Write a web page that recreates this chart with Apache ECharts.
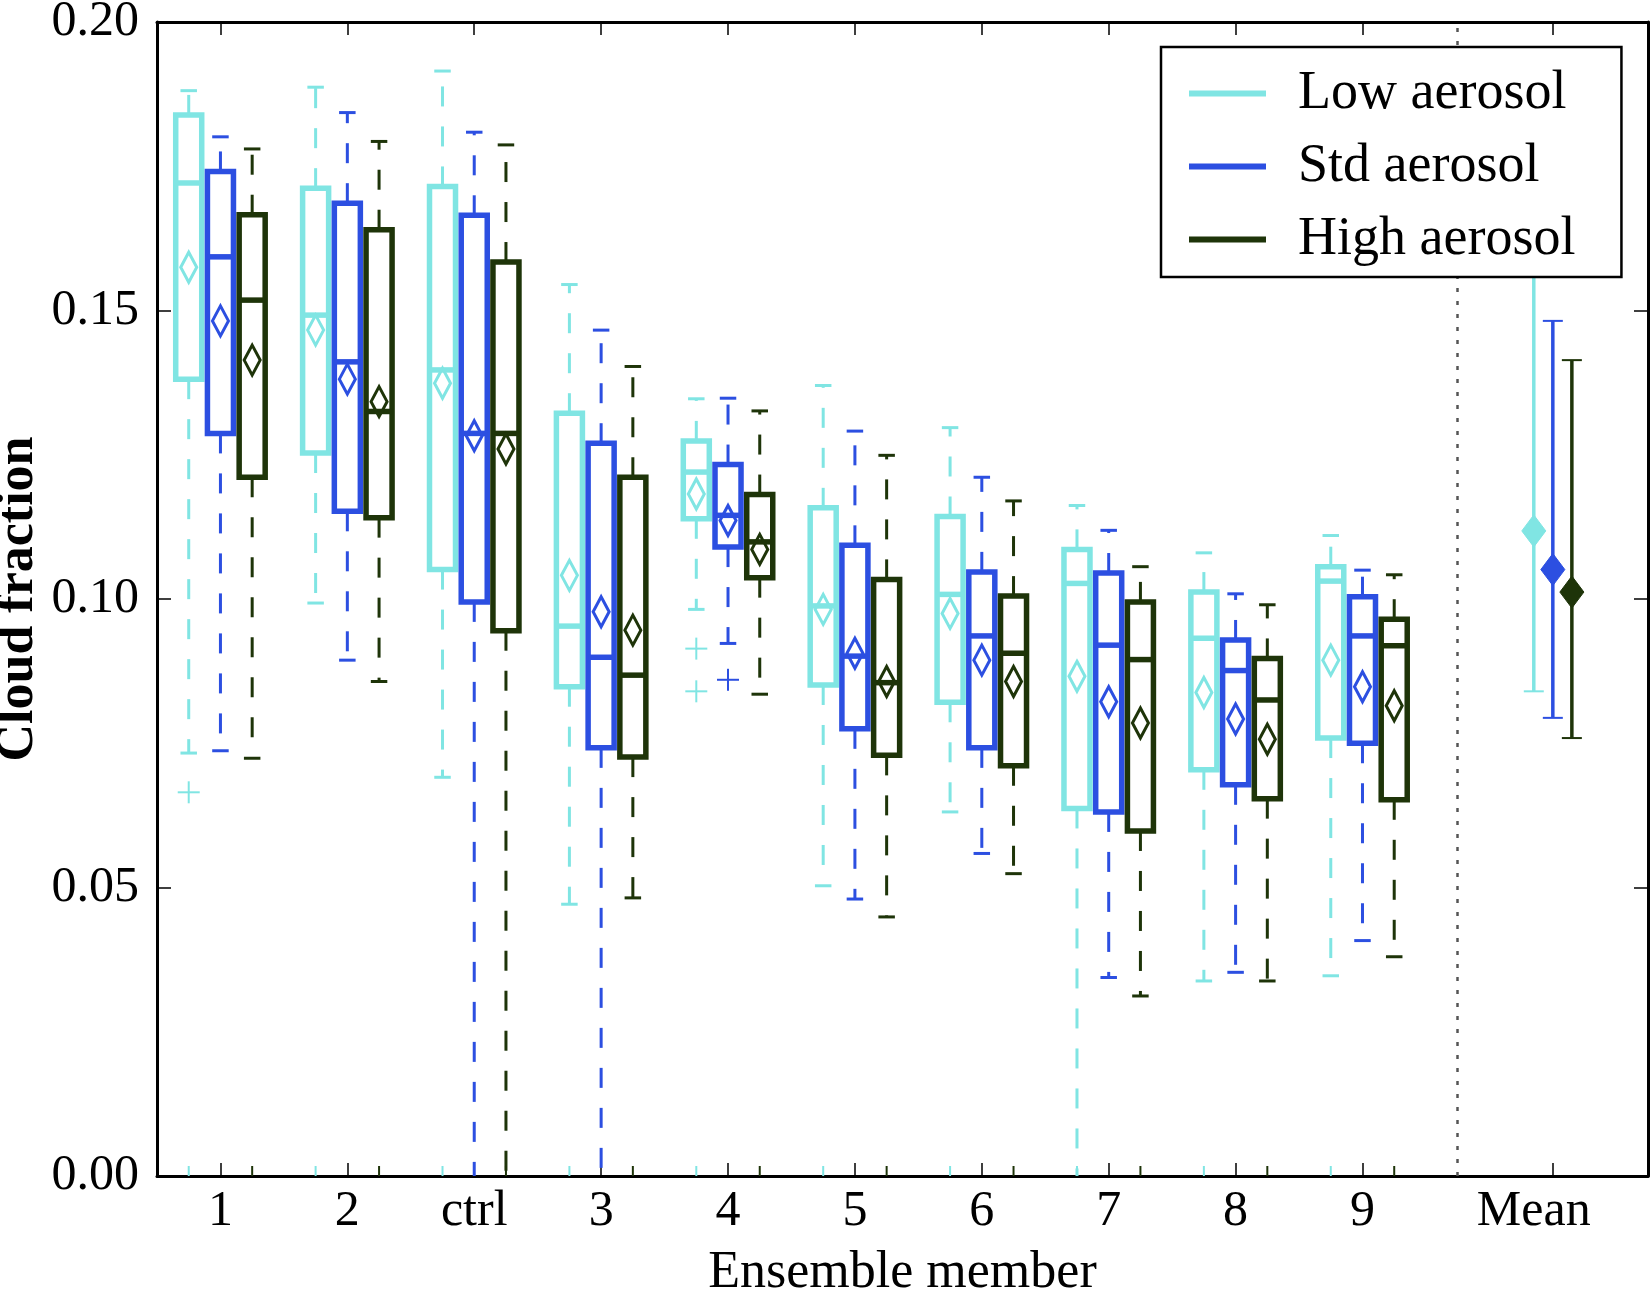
<!DOCTYPE html>
<html>
<head>
<meta charset="utf-8">
<script src="https://cdn.jsdelivr.net/npm/echarts@6/dist/echarts.min.js"></script>
<style>
html, body { margin: 0; padding: 0; background: #ffffff; }
#chart { width: 1651px; height: 1291px; }
</style>
</head>
<body>
<div id="chart"></div>
<script>
// ---------------- data ----------------
const memberLabels = ['1', '2', 'ctrl', '3', '4', '5', '6', '7', '8', '9'];
const meanLabel = 'Mean';
const seriesNames = ['Low aerosol', 'Std aerosol', 'High aerosol'];
const seriesColors = ['#80e5e3', '#2c4fe1', '#1e3409'];
const yTicks = [0, 0.05, 0.10, 0.15, 0.20];

// per member: [whisker low, Q1, median, Q3, whisker high, mean]
const lowAerosol = [
  [0.0733, 0.1381, 0.1721, 0.1839, 0.1881, 0.1575],
  [0.0993, 0.1253, 0.1492, 0.1712, 0.1887, 0.1466],
  [0.0691, 0.1051, 0.1397, 0.1715, 0.1915, 0.1374],
  [0.0471, 0.0848, 0.0953, 0.1322, 0.1545, 0.1041],
  [0.0982, 0.1139, 0.1220, 0.1274, 0.1347, 0.1182],
  [0.0503, 0.0851, 0.0988, 0.1158, 0.1370, 0.0982],
  [0.0631, 0.0821, 0.1008, 0.1143, 0.1297, 0.0975],
  [0.0000, 0.0637, 0.1027, 0.1086, 0.1162, 0.0866],
  [0.0338, 0.0704, 0.0932, 0.1012, 0.1080, 0.0838],
  [0.0347, 0.0759, 0.1031, 0.1056, 0.1110, 0.0894]
];
const stdAerosol = [
  [0.0737, 0.1287, 0.1593, 0.1741, 0.1801, 0.1482],
  [0.0894, 0.1152, 0.1411, 0.1686, 0.1843, 0.1381],
  [0.0000, 0.0995, 0.1287, 0.1665, 0.1809, 0.1283],
  [0.0000, 0.0742, 0.0899, 0.1270, 0.1466, 0.0978],
  [0.0923, 0.1090, 0.1145, 0.1233, 0.1348, 0.1136],
  [0.0480, 0.0775, 0.0901, 0.1093, 0.1291, 0.0906],
  [0.0559, 0.0742, 0.0936, 0.1047, 0.1211, 0.0894],
  [0.0344, 0.0631, 0.0920, 0.1045, 0.1119, 0.0822],
  [0.0353, 0.0678, 0.0876, 0.0929, 0.1009, 0.0792],
  [0.0408, 0.0750, 0.0936, 0.1004, 0.1050, 0.0848]
];
const highAerosol = [
  [0.0724, 0.1211, 0.1518, 0.1666, 0.1780, 0.1414],
  [0.0857, 0.1141, 0.1325, 0.1640, 0.1793, 0.1342],
  [0.0000, 0.0945, 0.1287, 0.1584, 0.1787, 0.1260],
  [0.0482, 0.0726, 0.0868, 0.1211, 0.1403, 0.0946],
  [0.0835, 0.1037, 0.1099, 0.1181, 0.1326, 0.1086],
  [0.0449, 0.0729, 0.0855, 0.1034, 0.1249, 0.0857],
  [0.0524, 0.0711, 0.0906, 0.1005, 0.1170, 0.0857],
  [0.0312, 0.0598, 0.0895, 0.0995, 0.1056, 0.0785],
  [0.0338, 0.0654, 0.0825, 0.0897, 0.0990, 0.0757],
  [0.0380, 0.0652, 0.0919, 0.0965, 0.1042, 0.0815]
];

// outliers: [member label, value]
const lowOutliers = [['1', 0.0665], ['4', 0.0914], ['4', 0.0840]];
const stdOutliers = [['4', 0.0860]];
const highOutliers = [];

// ensemble mean (diamond) and range of member means (error bar)
const ensembleMean = [0.1118, 0.1051, 0.1012];
const ensembleMeanMin = [0.0840, 0.0794, 0.0759];
const ensembleMeanMax = [0.1575, 0.1482, 0.1414];

// ---------------- layout / style ----------------
const FONT = "'Liberation Serif', 'Times New Roman', serif";
const BOX_OFFSETS = [-0.25, 0, 0.25];
const MEAN_OFFSETS = [-0.15, 0, 0.15];
const BOX_WIDTH = 0.205;
const CAP_WIDTH = 0.13;
const MEAN_POS = 11.5;
const MEAN_LABEL_POS = MEAN_POS + MEAN_OFFSETS[0];
const SEPARATOR_POS = 10.75;
const X_MIN = 0.5, X_MAX = 12.25;
const memberPositions = memberLabels.map((_, i) => i + 1);
const tickPositions = memberPositions.concat([MEAN_POS]);
const labelPositions = memberPositions.concat([MEAN_LABEL_POS]);

function labelAt(v) {
  if (Math.abs(v - MEAN_LABEL_POS) < 1e-6) return meanLabel;
  const i = Math.round(v) - 1;
  return (Math.abs(v - (i + 1)) < 1e-6 && memberLabels[i] !== undefined) ? memberLabels[i] : '';
}

function boxRender(offset, color, minorTick) {
  return function (params, api) {
    const pos = api.value(0) + offset;
    const lo = api.value(1), q1 = api.value(2), med = api.value(3);
    const q3 = api.value(4), hi = api.value(5), mean = api.value(6);
    const cx = api.coord([pos, 0])[0];
    const y = v => api.coord([pos, v])[1];
    const half = api.size([BOX_WIDTH, 0])[0] / 2;
    const capHalf = api.size([CAP_WIDTH, 0])[0] / 2;
    const dash = { stroke: color, lineWidth: 3, lineDash: [20, 20], fill: null };
    const solid = w => ({ stroke: color, lineWidth: w, fill: null });
    const kids = [];
    kids.push({ type: 'line', shape: { x1: cx, y1: y(q1), x2: cx, y2: y(lo) }, style: dash });
    kids.push({ type: 'line', shape: { x1: cx, y1: y(q3), x2: cx, y2: y(hi) }, style: dash });
    if (lo > 0) kids.push({ type: 'line', shape: { x1: cx - capHalf, y1: y(lo), x2: cx + capHalf, y2: y(lo) }, style: solid(3) });
    kids.push({ type: 'line', shape: { x1: cx - capHalf, y1: y(hi), x2: cx + capHalf, y2: y(hi) }, style: solid(3) });
    kids.push({ type: 'rect', shape: { x: cx - half, y: y(q3), width: 2 * half, height: y(q1) - y(q3) }, style: solid(5.5) });
    kids.push({ type: 'line', shape: { x1: cx - half, y1: y(med), x2: cx + half, y2: y(med) }, style: solid(5.5) });
    const my = y(mean);
    kids.push({ type: 'polygon', shape: { points: [[cx, my - 15], [cx + 8, my], [cx, my + 15], [cx - 8, my]] }, style: solid(3) });
    if (minorTick) {
      const yb = y(yTicks[0]);
      kids.push({ type: 'line', shape: { x1: cx, y1: yb, x2: cx, y2: yb - 10 }, style: solid(2) });
    }
    return { type: 'group', children: kids };
  };
}

function outlierRender(offset, color) {
  return function (params, api) {
    const p = api.coord([api.value(0) + offset, api.value(1)]);
    const st = { stroke: color, lineWidth: 2, fill: null };
    return { type: 'group', children: [
      { type: 'line', shape: { x1: p[0] - 11, y1: p[1], x2: p[0] + 11, y2: p[1] }, style: st },
      { type: 'line', shape: { x1: p[0], y1: p[1] - 11, x2: p[0], y2: p[1] + 11 }, style: st }
    ] };
  };
}

function meanRender(offset, color) {
  return function (params, api) {
    const pos = api.value(0) + offset;
    const c = api.coord([pos, api.value(1)]);
    const yLo = api.coord([pos, api.value(2)])[1];
    const yHi = api.coord([pos, api.value(3)])[1];
    const st = w => ({ stroke: color, lineWidth: w, fill: null });
    return { type: 'group', children: [
      { type: 'line', shape: { x1: c[0], y1: yLo, x2: c[0], y2: yHi }, style: st(3.5) },
      { type: 'line', shape: { x1: c[0] - 10, y1: yLo, x2: c[0] + 10, y2: yLo }, style: st(2) },
      { type: 'line', shape: { x1: c[0] - 10, y1: yHi, x2: c[0] + 10, y2: yHi }, style: st(2) },
      { type: 'polygon', shape: { points: [[c[0], c[1] - 16], [c[0] + 12, c[1]], [c[0], c[1] + 16], [c[0] - 12, c[1]]] }, style: { fill: color, stroke: color, lineWidth: 1 } }
    ] };
  };
}

const boxData = [lowAerosol, stdAerosol, highAerosol];
const outlierData = [lowOutliers, stdOutliers, highOutliers];

const series = [];
seriesNames.forEach((name, k) => {
  series.push({
    type: 'custom', name: name, silent: true, clip: true, z: 3,
    renderItem: boxRender(BOX_OFFSETS[k], seriesColors[k], k !== 1),
    data: boxData[k].map((r, i) => [memberPositions[i]].concat(r)),
    encode: { x: 0, y: [1, 2, 3, 4, 5, 6] },
    itemStyle: { color: seriesColors[k] }
  });
  series.push({
    type: 'custom', name: name, silent: true, clip: true, z: 3,
    renderItem: outlierRender(BOX_OFFSETS[k], seriesColors[k]),
    data: outlierData[k].map(o => [memberLabels.indexOf(o[0]) + 1, o[1]]),
    encode: { x: 0, y: 1 },
    itemStyle: { color: seriesColors[k] }
  });
  series.push({
    type: 'custom', name: name, silent: true, clip: true, z: 3,
    renderItem: meanRender(MEAN_OFFSETS[k], seriesColors[k]),
    data: [[MEAN_POS, ensembleMean[k], ensembleMeanMin[k], ensembleMeanMax[k]]],
    encode: { x: 0, y: [1, 2, 3] },
    itemStyle: { color: seriesColors[k] }
  });
});
series[2].markLine = {
  silent: true, symbol: ['none', 'none'], label: { show: false },
  lineStyle: { color: '#555555', width: 2.5, type: [4, 9] },
  data: [{ xAxis: SEPARATOR_POS }]
};

const axisLineStyle = { color: '#000', width: 3 };
const tickStyle = { color: '#000', width: 1.5 };

const option = {
  animation: false,
  backgroundColor: '#ffffff',
  grid: { left: 157, right: 3, top: 22, bottom: 115, containLabel: false, outerBoundsMode: 'none' },
  legend: {
    orient: 'vertical', left: 1161, top: 47,
    data: seriesNames.map((n, i) => ({ name: n, icon: 'rect', itemStyle: { color: seriesColors[i] } })),
    itemWidth: 77, itemHeight: 6, itemGap: 16,
    textStyle: { fontFamily: FONT, fontSize: 54, color: '#000', lineHeight: 54, padding: [3, 0, 0, 27] },
    padding: [18, 46, 9, 28],
    borderColor: '#000', borderWidth: 2.5, borderRadius: 0,
    backgroundColor: '#ffffff', selectedMode: false, z: 10
  },
  xAxis: [
    {
      type: 'value', min: X_MIN, max: X_MAX, position: 'bottom',
      axisLine: { show: true, onZero: false, lineStyle: axisLineStyle },
      axisTick: { show: true, inside: true, length: 13, customValues: tickPositions, lineStyle: tickStyle },
      axisLabel: { show: true, customValues: labelPositions, formatter: labelAt, fontFamily: FONT, fontSize: 50, color: '#000', margin: 11 },
      splitLine: { show: false },
      name: 'Ensemble member', nameLocation: 'middle', nameGap: 71, nameMoveOverlap: false,
      nameTextStyle: { fontFamily: FONT, fontSize: 52, color: '#000' }
    },
    {
      type: 'value', min: X_MIN, max: X_MAX, position: 'top',
      axisLine: { show: true, onZero: false, lineStyle: axisLineStyle },
      axisTick: { show: true, inside: true, length: 13, customValues: tickPositions, lineStyle: tickStyle },
      axisLabel: { show: false },
      splitLine: { show: false }
    }
  ],
  yAxis: [
    {
      type: 'value', min: yTicks[0], max: yTicks[yTicks.length - 1], position: 'left',
      axisLine: { show: true, onZero: false, lineStyle: axisLineStyle },
      axisTick: { show: true, inside: true, length: 14, customValues: yTicks, lineStyle: tickStyle },
      axisLabel: { show: true, customValues: yTicks, formatter: v => v.toFixed(2), fontFamily: FONT, fontSize: 50, color: '#000', margin: 18 },
      splitLine: { show: false },
      name: 'Cloud fraction', nameLocation: 'middle', nameGap: 112, nameRotate: 90, nameMoveOverlap: false,
      nameTextStyle: { fontFamily: FONT, fontSize: 52, fontWeight: 'bold', color: '#000' }
    },
    {
      type: 'value', min: yTicks[0], max: yTicks[yTicks.length - 1], position: 'right',
      axisLine: { show: true, onZero: false, lineStyle: axisLineStyle },
      axisTick: { show: true, inside: true, length: 14, customValues: yTicks, lineStyle: tickStyle },
      axisLabel: { show: false },
      splitLine: { show: false }
    }
  ],
  series: series
};

const chart = echarts.init(document.getElementById('chart'), null, { renderer: 'canvas' });
chart.setOption(option);
</script>
</body>
</html>
